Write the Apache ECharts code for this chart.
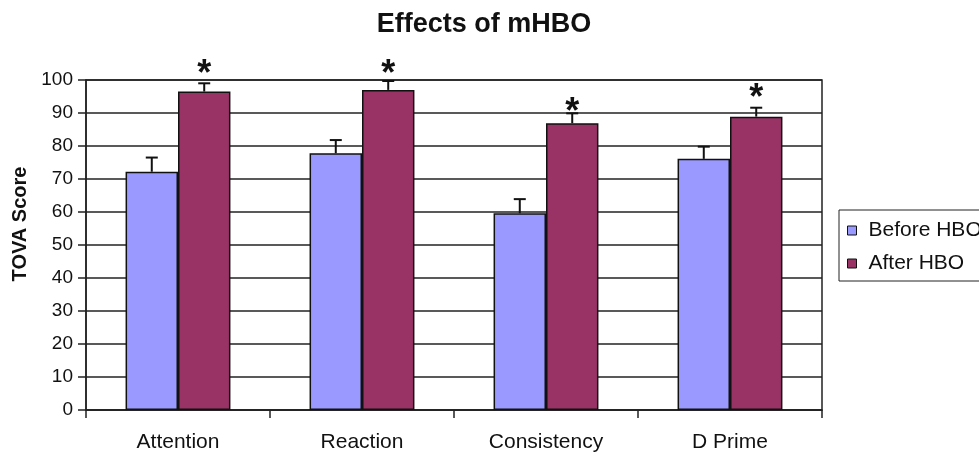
<!DOCTYPE html>
<html>
<head>
<meta charset="utf-8">
<script src="https://cdn.jsdelivr.net/npm/echarts@6/dist/echarts.min.js"></script>
<style>
  html, body { margin: 0; padding: 0; background: #fff; }
  #chart { width: 979px; height: 456px; }
</style>
</head>
<body>
<div id="chart"></div>
<script>
// values
const categories = ['Attention', 'Reaction', 'Consistency', 'D Prime'];
const seriesNames = ['Before HBO', 'After HBO'];
const beforeValues = [72.2, 77.8, 59.6, 76.1];
const beforeErrors = [4.3, 4.0, 4.3, 3.7];
const afterValues = [96.5, 97.0, 86.9, 88.9];
const afterErrors = [2.5, 2.7, 3.0, 2.7];
// asterisk heights (y value) above the "after" bars
const starValues = [104, 104, 92.5, 96.7];
const yTicks = [0, 10, 20, 30, 40, 50, 60, 70, 80, 90, 100];

const COLORS = ['#9999ff', '#993366'];
const FONT = '"Liberation Sans", Arial, sans-serif';
const CAT_GAP = 0.43; // barCategoryGap as fraction

const chart = echarts.init(document.getElementById('chart'), null, { renderer: 'canvas' });

const errData = [];
beforeValues.forEach((v, i) => errData.push([i, v, beforeErrors[i], 0]));
afterValues.forEach((v, i) => errData.push([i, v, afterErrors[i], 1]));

function renderErr(params, api) {
  const ci = api.value(0);
  const val = api.value(1);
  const side = api.value(3);
  const band = api.size([1, 0])[0];
  const barW = band * (1 - CAT_GAP) / 2;
  const base = api.coord([ci, val]);
  const tip = api.coord([ci, val + api.value(2)]);
  const x = base[0] + (side === 0 ? -barW / 2 : barW / 2);
  const cap = 6;
  const style = { stroke: '#111', lineWidth: 2 };
  return {
    type: 'group',
    children: [
      { type: 'line', shape: { x1: x, y1: base[1], x2: x, y2: tip[1] }, style },
      { type: 'line', shape: { x1: x - cap, y1: tip[1], x2: x + cap, y2: tip[1] }, style }
    ]
  };
}

function renderStar(params, api) {
  const band = api.size([1, 0])[0];
  const barW = band * (1 - CAT_GAP) / 2;
  const p = api.coord([api.value(0), api.value(1)]);
  // the glyph sits high in its em box, so nudge it down onto the value
  return {
    type: 'text',
    x: p[0] + barW / 2,
    y: p[1] + 8,
    style: {
      text: '*',
      fill: '#111',
      font: 'bold 36px ' + FONT,
      align: 'center',
      verticalAlign: 'middle'
    }
  };
}

chart.setOption({
  animation: false,
  backgroundColor: '#fff',
  title: {
    text: 'Effects of mHBO',
    left: 484,
    textAlign: 'center',
    top: 11,
    padding: 0,
    textStyle: { fontFamily: FONT, fontSize: 27, fontWeight: 'bold', color: '#111' }
  },
  legend: {
    data: seriesNames,
    orient: 'vertical',
    left: 839,
    top: 210,
    padding: [10, 20, 7, 8],
    itemGap: 12,
    itemWidth: 9,
    itemHeight: 9,
    icon: 'rect',
    borderColor: '#222',
    borderWidth: 1,
    itemStyle: { borderColor: '#111', borderWidth: 1 },
    textStyle: { fontFamily: FONT, fontSize: 21, lineHeight: 21, color: '#111', padding: [0, 0, 0, 7] }
  },
  grid: {
    left: 86, right: 157, top: 80, bottom: 46,
    show: true, borderColor: '#222', borderWidth: 1.5,
    outerBoundsMode: 'none'
  },
  xAxis: {
    type: 'category',
    data: categories,
    axisLine: { lineStyle: { color: '#222', width: 1.5 } },
    axisTick: { show: true, length: 8, lineStyle: { color: '#222', width: 1.5 } },
    axisLabel: { fontFamily: FONT, fontSize: 21, color: '#111', margin: 22 },
    splitLine: { show: false }
  },
  yAxis: {
    type: 'value',
    min: yTicks[0],
    max: yTicks[yTicks.length - 1],
    interval: 10,
    name: 'TOVA Score',
    nameLocation: 'middle',
    nameRotate: 90,
    nameGap: 51,
    nameTextStyle: { fontFamily: FONT, fontSize: 20, fontWeight: 'bold', color: '#111', padding: [0, 0, 0, 42] },
    axisLine: { show: true, lineStyle: { color: '#222', width: 1.5 } },
    axisTick: { show: true, length: 8, lineStyle: { color: '#222', width: 1.5 } },
    axisLabel: { fontFamily: FONT, fontSize: 19, color: '#111', margin: 13 },
    splitLine: { show: true, lineStyle: { color: '#222', width: 1.5 } }
  },
  series: [
    {
      name: seriesNames[0],
      type: 'bar',
      data: beforeValues,
      barGap: '0%',
      barCategoryGap: (CAT_GAP * 100) + '%',
      itemStyle: { color: COLORS[0], borderColor: '#111', borderWidth: 1.5 }
    },
    {
      name: seriesNames[1],
      type: 'bar',
      data: afterValues,
      itemStyle: { color: COLORS[1], borderColor: '#111', borderWidth: 1.5 }
    },
    {
      type: 'custom',
      data: errData,
      renderItem: renderErr,
      clip: false,
      z: 5,
      silent: true
    },
    {
      type: 'custom',
      data: starValues.map((v, i) => [i, v]),
      renderItem: renderStar,
      clip: false,
      z: 6,
      silent: true
    }
  ]
});
</script>
</body>
</html>
